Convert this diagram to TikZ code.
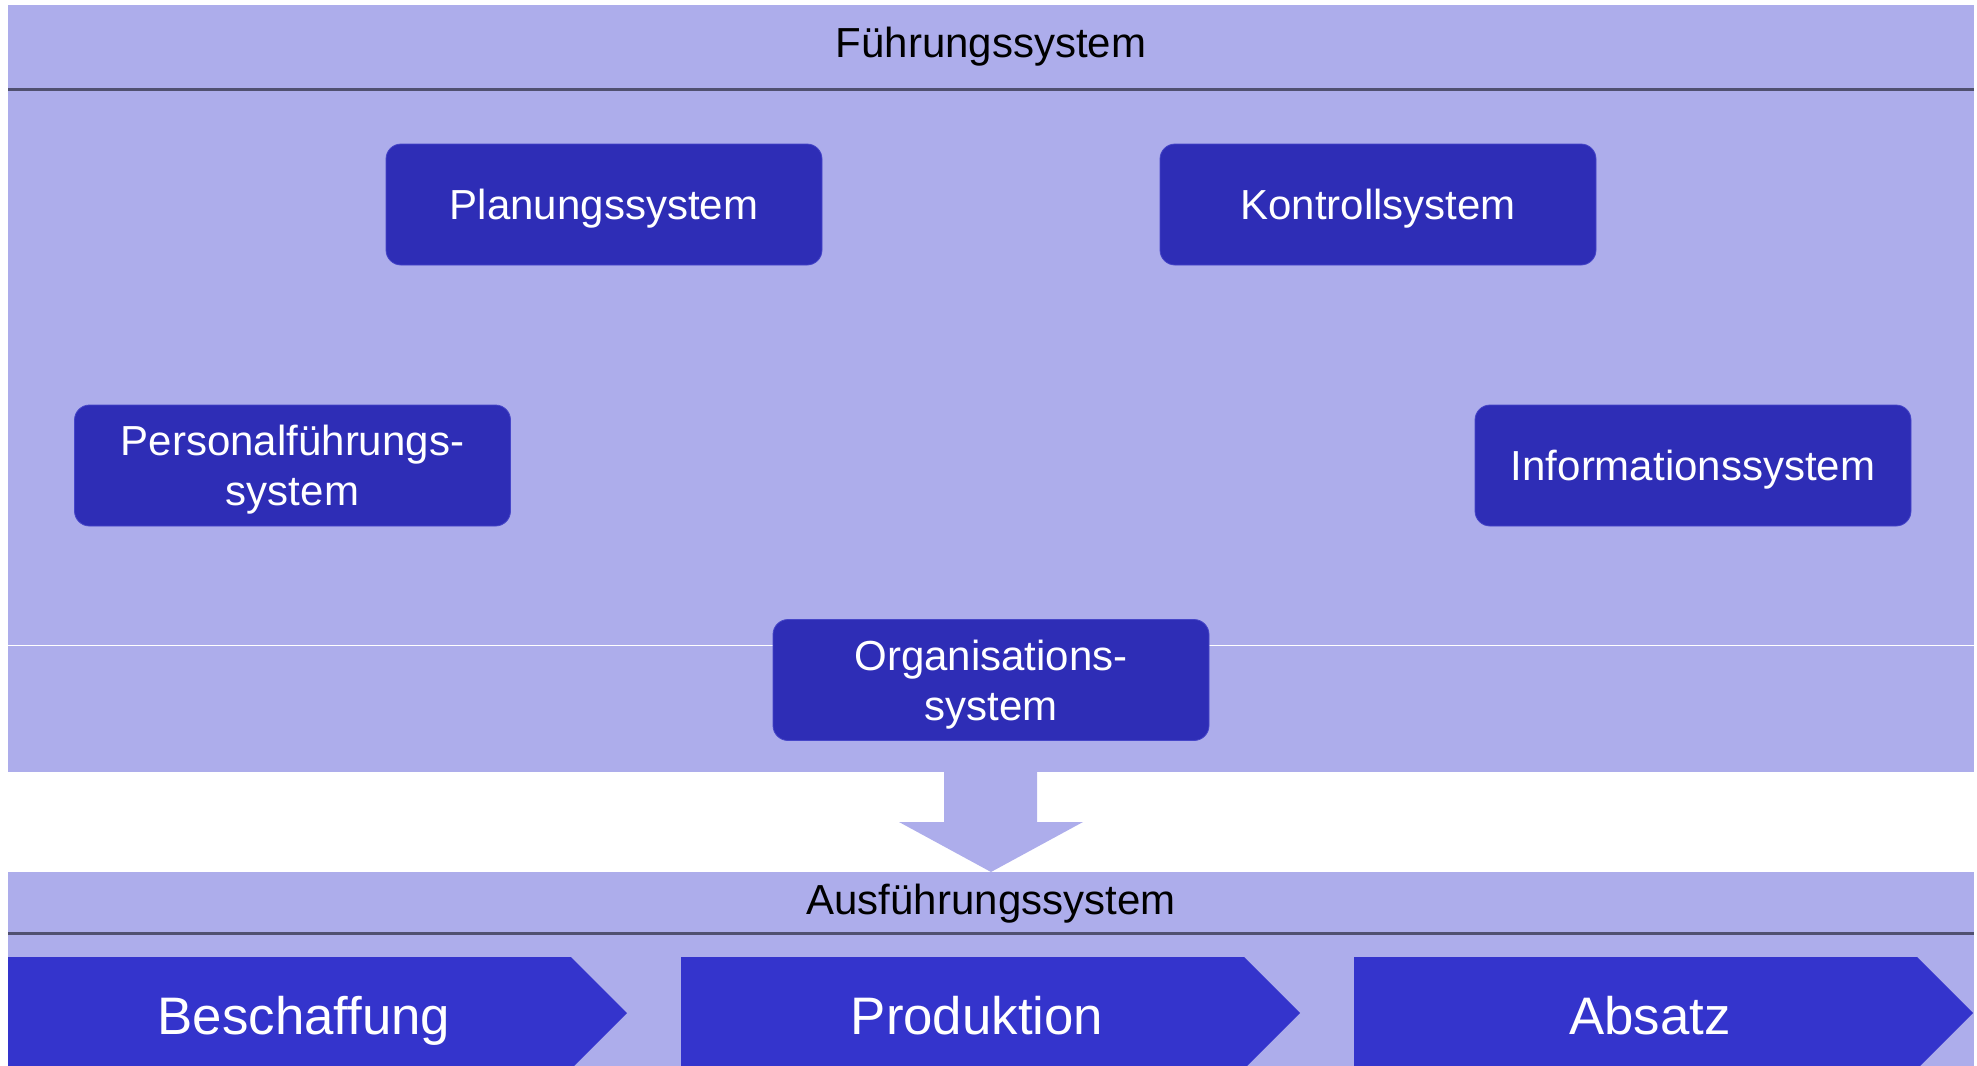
\documentclass[tikz,border=0pt]{standalone}
\usepackage{fontspec}
\setmainfont{Liberation Sans}
\definecolor{panel}{RGB}{173,173,235}
\definecolor{boxblue}{RGB}{46,45,182}
\definecolor{boxedge}{RGB}{70,70,200}
\definecolor{chev}{RGB}{52,52,204}
\definecolor{rulegray}{RGB}{80,80,112}
\begin{document}
\begin{tikzpicture}[x=0.5pt,y=-0.5pt,
  sysbox/.style={fill=boxblue, draw=boxedge, line width=0.4pt, rounded corners=7.5pt,
    minimum width=218pt, minimum height=60.5pt, inner sep=0pt, text=white,
    font=\fontsize{21}{25}\selectfont, align=center, text height=15.2pt, text depth=0pt},
  twoline/.style={text height=40.2pt},
  heading/.style={inner sep=0pt, text=black, font=\fontsize{21}{25}\selectfont,
    text height=15.2pt, text depth=0pt},
  phase/.style={inner sep=0pt, text=white, font=\fontsize{26.4}{30}\selectfont,
    text height=19pt, text depth=0pt},
  sepline/.style={draw=rulegray, line width=1.5pt},
]
\useasboundingbox (0,0) rectangle (1977,1066);
\clip (0,0) rectangle (1977,1066);

% upper panel: management system
\fill[panel] (8,5) rectangle (1974,772);
\draw[sepline] (8,89.5) -- (1974,89.5);
\draw[white, line width=0.5pt] (8,645) -- (1974,645);
\node[heading] (fs) at (991,42) {Führungssystem};

\node[sysbox] (plan) at (604,204.5) {Planungssystem};
\node[sysbox] (kontr) at (1378,204.5) {Kontrollsystem};
\node[sysbox, twoline] (pers) at (292.5,465.5) {Personalführungs-\\system};
\node[sysbox] (info) at (1693,465.5) {Informationssystem};
\node[sysbox, twoline] (org) at (991,680) {Organisations-\\system};

% block arrow down to the execution system
\fill[panel] (944,772) -- (944,822) -- (899,822) -- (991,872) -- (1083,822)
  -- (1037,822) -- (1037,772) -- cycle;

% lower band: execution system
\fill[panel] (8,872) rectangle (1974,1066);
\draw[sepline] (8,933) -- (1974,933);
\node[heading] (as) at (991,899) {Ausführungssystem};

\foreach \x/\name/\lbl in {8/besch/Beschaffung, 681/prod/Produktion, 1354/abs/Absatz}{
  \fill[chev] (\x,957) -- (\x+563,957) -- (\x+619,1013) -- (\x+563,1069)
    -- (\x,1069) -- cycle;
  \node[phase] (\name) at (\x+296,1015) {\lbl};
}
\end{tikzpicture}
\end{document}
